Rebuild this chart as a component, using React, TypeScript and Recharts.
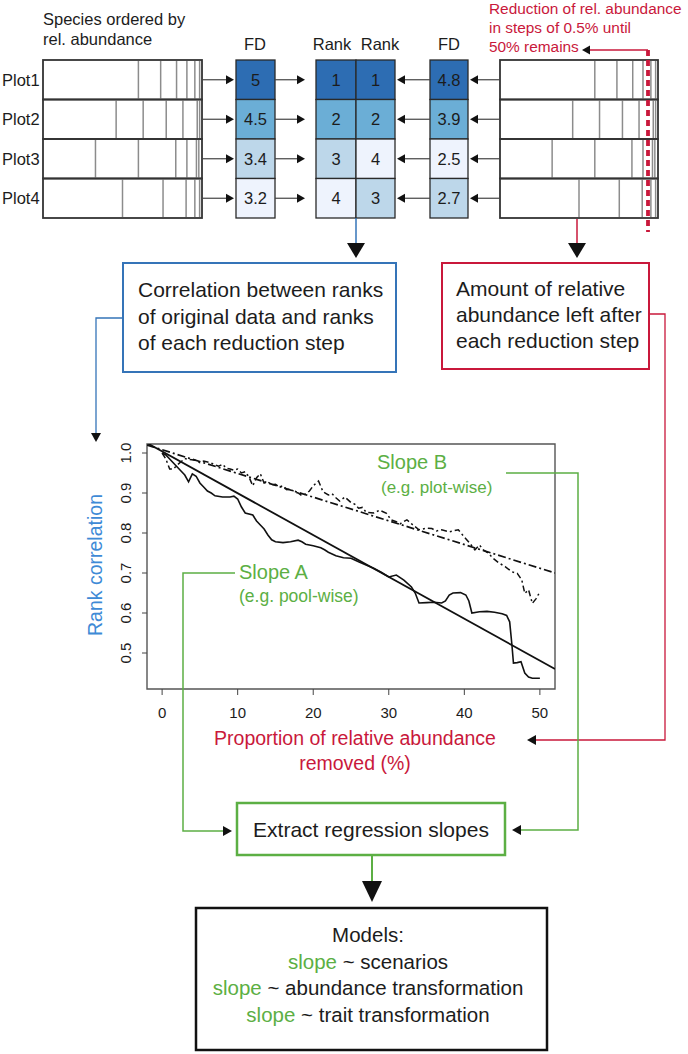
import React from "react";
import { LineChart, Line, XAxis, YAxis, ReferenceArea } from "recharts";

const FONT = "'Liberation Sans', Arial, Helvetica, sans-serif";
const INK = "#1c1c1c";
const BLUE = "#3574B8";
const AXIS_BLUE = "#3E8AD6";
const RED = "#C9183B";
const GREEN = "#5CAF44";

const PLOTS = ["Plot1", "Plot2", "Plot3", "Plot4"];
const FD_ORIGINAL = [5, 4.5, 3.4, 3.2];
const FD_REDUCED = [4.8, 3.9, 2.5, 2.7];
const RANK_ORIGINAL = [1, 2, 3, 4];
const RANK_REDUCED = [1, 2, 4, 3];
const RANK_COLORS = ["#2D6DB3", "#6BAED6", "#BDD7EA", "#EEF3FD"];

// where each species ends (cumulative rel. abundance), one list per plot
const SPECIES_CUM = [
  [0.6, 0.74, 0.84, 0.905, 0.955, 0.985],
  [0.46, 0.63, 0.775, 0.88, 0.97, 0.985],
  [0.33, 0.6, 0.835, 0.905, 0.965, 0.98],
  [0.5, 0.755, 0.9, 0.955, 0.985],
];

// rank correlation vs. proportion removed (%)
const POOL_WISE: [number, number][] = [
  [0, 1.0], [0.5, 0.995], [1, 0.985], [1.5, 0.975], [2, 0.965], [2.5, 0.955], [3, 0.945],
  [3.5, 0.928], [4, 0.948], [4.5, 0.942], [5, 0.925], [5.5, 0.915], [6, 0.905], [6.5, 0.9],
  [7, 0.893], [8, 0.89], [9, 0.89], [9.5, 0.892], [10, 0.885], [10.5, 0.865], [11, 0.85],
  [12, 0.845], [12.5, 0.83], [13, 0.82], [13.5, 0.81], [14, 0.795], [14.5, 0.783], [15, 0.778],
  [16, 0.776], [17, 0.778], [18, 0.782], [18.5, 0.778], [19, 0.772], [20, 0.768], [21, 0.763],
  [21.5, 0.758], [22, 0.752], [23, 0.743], [24, 0.738], [25, 0.737], [26, 0.728], [27, 0.72],
  [28, 0.712], [29, 0.702], [30, 0.69], [31, 0.695], [32, 0.682], [33, 0.665], [33.5, 0.65],
  [34, 0.625], [35, 0.626], [36, 0.627], [37, 0.625], [37.5, 0.63], [38, 0.645], [38.5, 0.65],
  [39.5, 0.651], [40.2, 0.645], [40.6, 0.63], [41, 0.6], [42, 0.603], [43, 0.604], [44, 0.602],
  [45, 0.598], [45.6, 0.594], [46, 0.578], [46.3, 0.52], [46.5, 0.475], [47, 0.476], [47.5, 0.478],
  [48, 0.45], [48.5, 0.44], [49, 0.437], [50, 0.437],
];
const PLOT_WISE: [number, number][] = [
  [0, 1.0], [0.5, 0.985], [1, 0.96], [1.5, 0.96], [2, 0.97], [2.5, 0.978], [3, 0.986],
  [3.5, 0.984], [4.5, 0.982], [5, 0.976], [5.5, 0.98], [6.5, 0.975], [7, 0.97], [7.5, 0.967],
  [8, 0.972], [8.5, 0.962], [9, 0.96], [9.5, 0.957], [10, 0.96], [10.5, 0.95], [11, 0.953],
  [11.5, 0.94], [12, 0.918], [12.5, 0.938], [13, 0.948], [13.5, 0.925], [14, 0.928], [14.5, 0.92],
  [15, 0.922], [15.5, 0.915], [16, 0.918], [16.5, 0.908], [17, 0.91], [17.5, 0.903], [18, 0.9],
  [18.5, 0.893], [19, 0.898], [19.5, 0.905], [20, 0.918], [20.7, 0.93], [21.3, 0.903], [22, 0.895],
  [22.5, 0.898], [23, 0.888], [23.5, 0.88], [24.2, 0.89], [25, 0.876], [25.5, 0.872], [26, 0.862],
  [26.5, 0.864], [27, 0.852], [28, 0.85], [28.8, 0.857], [29.7, 0.849], [30.3, 0.833],
  [31, 0.828], [31.5, 0.823], [32.4, 0.833], [33.2, 0.82], [34, 0.808], [35, 0.812],
  [35.7, 0.811], [36.3, 0.805], [37, 0.808], [38, 0.803], [39.2, 0.808], [40, 0.79], [40.7, 0.775],
  [41.4, 0.758], [42, 0.77], [42.5, 0.758], [43.2, 0.749], [43.8, 0.737], [44.5, 0.726],
  [45.4, 0.716], [46.3, 0.703], [47, 0.699], [47.6, 0.683], [48, 0.649], [48.5, 0.658],
  [49, 0.624], [49.5, 0.636], [50, 0.653],
];
const FIT_POOL: [number, number][] = [[-2, 1.025], [52, 0.46]];
const FIT_PLOT: [number, number][] = [[-2, 1.02], [52, 0.7]];

const X_TICKS = [0, 10, 20, 30, 40, 50];
const Y_TICKS = [0.5, 0.6, 0.7, 0.8, 0.9, 1.0];
const X_DOMAIN = [-2, 52];
const Y_DOMAIN = [0.41, 1.0225];

const toRows = (pts: [number, number][]) => pts.map(([x, y]) => ({ x, y }));

const ROW_TOP = 60;
const ROW_H = 39.5;
const rowY = (i: number) => ROW_TOP + i * ROW_H;

function Head({ x, y, dir, len = 8, half = 4.5 }: { x: number; y: number; dir: "r" | "l" | "d"; len?: number; half?: number }) {
  let pts = "";
  if (dir === "r") pts = `${x},${y} ${x - len},${y - half} ${x - len},${y + half}`;
  if (dir === "l") pts = `${x},${y} ${x + len},${y - half} ${x + len},${y + half}`;
  if (dir === "d") pts = `${x},${y} ${x - half},${y - len} ${x + half},${y - len}`;
  return <polygon points={pts} fill="#111" />;
}

function SpeciesBox({ x0, w }: { x0: number; w: number }) {
  return (
    <g>
      {SPECIES_CUM.map((cum, i) => (
        <g key={i}>
          {cum.map((c, j) => (
            <line key={j} x1={x0 + c * w} x2={x0 + c * w} y1={rowY(i) + 1} y2={rowY(i) + ROW_H - 1} stroke="#8c8c8c" strokeWidth={1.5} />
          ))}
          <rect x={x0} y={rowY(i)} width={w} height={ROW_H} fill="none" stroke="#333" strokeWidth={1.8} />
        </g>
      ))}
    </g>
  );
}

function ValueColumn({ x0, w, values, ranks }: { x0: number; w: number; values: number[]; ranks: number[] }) {
  return (
    <g>
      {values.map((v, i) => (
        <g key={i}>
          <rect x={x0} y={rowY(i)} width={w} height={ROW_H} fill={RANK_COLORS[ranks[i] - 1]} stroke="#2a2a2a" strokeWidth={1.3} />
          <text x={x0 + w / 2} y={rowY(i) + ROW_H / 2 + 6} textAnchor="middle" fontSize={16.5} fill={INK}>
            {v}
          </text>
        </g>
      ))}
    </g>
  );
}

function Diagram() {
  const centers = PLOTS.map((_, i) => rowY(i) + ROW_H / 2);
  return (
    <svg width={688} height={1054} style={{ position: "absolute", left: 0, top: 0, pointerEvents: "none" }} fontFamily={FONT}>
      {/* top row */}
      <text x={43} y={25} fontSize={16.5} fill={INK}>Species ordered by</text>
      <text x={43} y={45} fontSize={16.5} fill={INK}>rel. abundance</text>
      <text x={255} y={50} fontSize={16.5} fill={INK} textAnchor="middle">FD</text>
      <text x={332} y={50} fontSize={16.5} fill={INK} textAnchor="middle">Rank</text>
      <text x={380} y={50} fontSize={16.5} fill={INK} textAnchor="middle">Rank</text>
      <text x={449} y={50} fontSize={16.5} fill={INK} textAnchor="middle">FD</text>
      <text x={489} y={14} fontSize={15.4} fill={RED}>Reduction of rel. abundance</text>
      <text x={489} y={33} fontSize={15.4} fill={RED}>in steps of 0.5% until</text>
      <text x={489} y={52} fontSize={15.4} fill={RED}>50% remains</text>

      {PLOTS.map((p, i) => (
        <text key={p} x={2} y={centers[i] + 6} fontSize={16.5} fill={INK}>{p}</text>
      ))}
      <SpeciesBox x0={43} w={159} />
      <SpeciesBox x0={500} w={158} />
      <ValueColumn x0={236} w={39} values={FD_ORIGINAL} ranks={RANK_ORIGINAL} />
      <ValueColumn x0={316} w={40} values={RANK_ORIGINAL} ranks={RANK_ORIGINAL} />
      <ValueColumn x0={356} w={39} values={RANK_REDUCED} ranks={RANK_REDUCED} />
      <ValueColumn x0={430} w={38} values={FD_REDUCED} ranks={RANK_REDUCED} />
      {centers.map((cy, i) => (
        <g key={i}>
          <line x1={202} x2={228} y1={cy} y2={cy} stroke="#444" strokeWidth={1.2} />
          <Head x={234} y={cy} dir="r" />
          <line x1={275} x2={299} y1={cy} y2={cy} stroke="#444" strokeWidth={1.2} />
          <Head x={305} y={cy} dir="r" />
          <line x1={430} x2={403} y1={cy} y2={cy} stroke="#444" strokeWidth={1.2} />
          <Head x={397} y={cy} dir="l" />
          <line x1={500} x2={476} y1={cy} y2={cy} stroke="#444" strokeWidth={1.2} />
          <Head x={470} y={cy} dir="l" />
        </g>
      ))}
      {/* reduction marker */}
      <line x1={648} x2={648} y1={50} y2={232} stroke={RED} strokeWidth={3.8} strokeDasharray="6 4" />
      <line x1={648} x2={588} y1={50} y2={50} stroke={RED} strokeWidth={1.3} />
      <Head x={582} y={50} dir="l" />

      {/* to the two boxes */}
      <line x1={356} x2={356} y1={218} y2={245} stroke={BLUE} strokeWidth={1.5} />
      <Head x={356} y={258} dir="d" len={15} half={9} />
      <line x1={577} x2={577} y1={219} y2={245} stroke={RED} strokeWidth={1.5} />
      <Head x={577} y={258} dir="d" len={15} half={9} />

      <rect x={123} y={263} width={273} height={109} fill="none" stroke={BLUE} strokeWidth={2} />
      <text x={138} y={297} fontSize={21} fill={INK}>Correlation between ranks</text>
      <text x={138} y={324} fontSize={21} fill={INK}>of original data and ranks</text>
      <text x={138} y={350} fontSize={21} fill={INK}>of each reduction step</text>

      <rect x={442} y={263} width={207} height={106} fill="none" stroke={RED} strokeWidth={2} />
      <text x={456} y={296} fontSize={21} fill={INK}>Amount of relative</text>
      <text x={456} y={322} fontSize={21} fill={INK}>abundance left after</text>
      <text x={456} y={348} fontSize={21} fill={INK}>each reduction step</text>

      {/* connectors into the chart */}
      <polyline points="123,318 96,318 96,434" fill="none" stroke={BLUE} strokeWidth={1.3} />
      <Head x={96} y={442} dir="d" len={9} half={5} />
      <polyline points="649,314 665,314 665,740 535,740" fill="none" stroke={RED} strokeWidth={1.3} />
      <Head x={527} y={740} dir="l" len={9} half={5} />

      {/* chart annotations */}
      <text x={97} y={565} fontSize={19.5} fill={AXIS_BLUE} textAnchor="middle" transform="rotate(-90, 97, 565)" dominantBaseline="middle">Rank correlation</text>
      <text x={355} y={745} fontSize={19.5} fill={RED} textAnchor="middle">Proportion of relative abundance</text>
      <text x={355} y={770} fontSize={19.5} fill={RED} textAnchor="middle">removed (%)</text>
      <text x={377} y={469} fontSize={20} fill={GREEN}>Slope B</text>
      <text x={381} y={493} fontSize={17} fill={GREEN}>(e.g. plot-wise)</text>
      <text x={239} y={579} fontSize={20} fill={GREEN}>Slope A</text>
      <text x={239} y={602} fontSize={17.5} fill={GREEN}>(e.g. pool-wise)</text>

      <polyline points="506,473 578,473 578,830 520,830" fill="none" stroke={GREEN} strokeWidth={1.5} />
      <Head x={512} y={830} dir="l" len={9} half={5} />
      <polyline points="235,573 183,573 183,831 224,831" fill="none" stroke={GREEN} strokeWidth={1.5} />
      <Head x={232} y={831} dir="r" len={9} half={5} />

      {/* lower boxes */}
      <rect x={237} y={803} width={268} height={52} fill="none" stroke={GREEN} strokeWidth={2.5} />
      <text x={371} y={837} fontSize={21} fill={INK} textAnchor="middle">Extract regression slopes</text>
      <line x1={372} x2={372} y1={855} y2={882} stroke={GREEN} strokeWidth={2} />
      <Head x={372} y={902} dir="d" len={21} half={10} />

      <rect x={196} y={908} width={351} height={142} fill="none" stroke="#111" strokeWidth={2.5} />
      <g fontSize={20.5} textAnchor="middle" fill={INK}>
        <text x={368} y={942}>Models:</text>
        <text x={368} y={969}><tspan fill={GREEN}>slope</tspan> ~ scenarios</text>
        <text x={368} y={995}><tspan fill={GREEN}>slope</tspan> ~ abundance transformation</text>
        <text x={368} y={1022}><tspan fill={GREEN}>slope</tspan> ~ trait transformation</text>
      </g>
    </svg>
  );
}

const XTick = (props: any) => {
  const { x, y, payload } = props;
  return (
    <text x={x} y={y + 21} textAnchor="middle" fontSize={15} fill={INK} fontFamily={FONT}>
      {payload.value}
    </text>
  );
};

const YTick = (props: any) => {
  const { x, y, payload } = props;
  const bx = x - 9;
  return (
    <text x={bx} y={y} transform={`rotate(-90, ${bx}, ${y})`} textAnchor="middle" fontSize={15} fill={INK} fontFamily={FONT}>
      {Number(payload.value).toFixed(1)}
    </text>
  );
};

export default function App() {
  return (
    <div style={{ position: "absolute", left: 0, top: 0, width: 688, height: 1054, background: "#fff", fontFamily: FONT }}>
      <div style={{ position: "absolute", left: 0, top: 0 }}>
        <LineChart width={688} height={760} margin={{ top: 444, right: 133, left: 117, bottom: 31 }}>
          <XAxis type="number" dataKey="x" domain={X_DOMAIN} ticks={X_TICKS} allowDataOverflow axisLine={false}
            tickLine={{ stroke: "#444" }} tickSize={6} tickMargin={2} tick={<XTick />} height={40} interval={0} />
          <YAxis type="number" dataKey="y" domain={Y_DOMAIN} ticks={Y_TICKS} allowDataOverflow axisLine={false}
            tickLine={{ stroke: "#444" }} tickSize={5} tickMargin={2} tick={<YTick />} width={30} interval={0} />
          <ReferenceArea x1={X_DOMAIN[0]} x2={X_DOMAIN[1]} y1={Y_DOMAIN[0]} y2={Y_DOMAIN[1]} fill="none" stroke="#555" strokeWidth={1.4} fillOpacity={0} />
          <Line data={toRows(FIT_PLOT)} dataKey="y" stroke="#111" strokeWidth={1.7} strokeDasharray="8 3 2 3" dot={false} isAnimationActive={false} />
          <Line data={toRows(PLOT_WISE)} dataKey="y" stroke="#111" strokeWidth={1.5} strokeDasharray="6 3 2 3" dot={false} isAnimationActive={false} />
          <Line data={toRows(FIT_POOL)} dataKey="y" stroke="#111" strokeWidth={1.8} dot={false} isAnimationActive={false} />
          <Line data={toRows(POOL_WISE)} dataKey="y" stroke="#111" strokeWidth={1.6} dot={false} isAnimationActive={false} />
        </LineChart>
      </div>
      <Diagram />
    </div>
  );
}
